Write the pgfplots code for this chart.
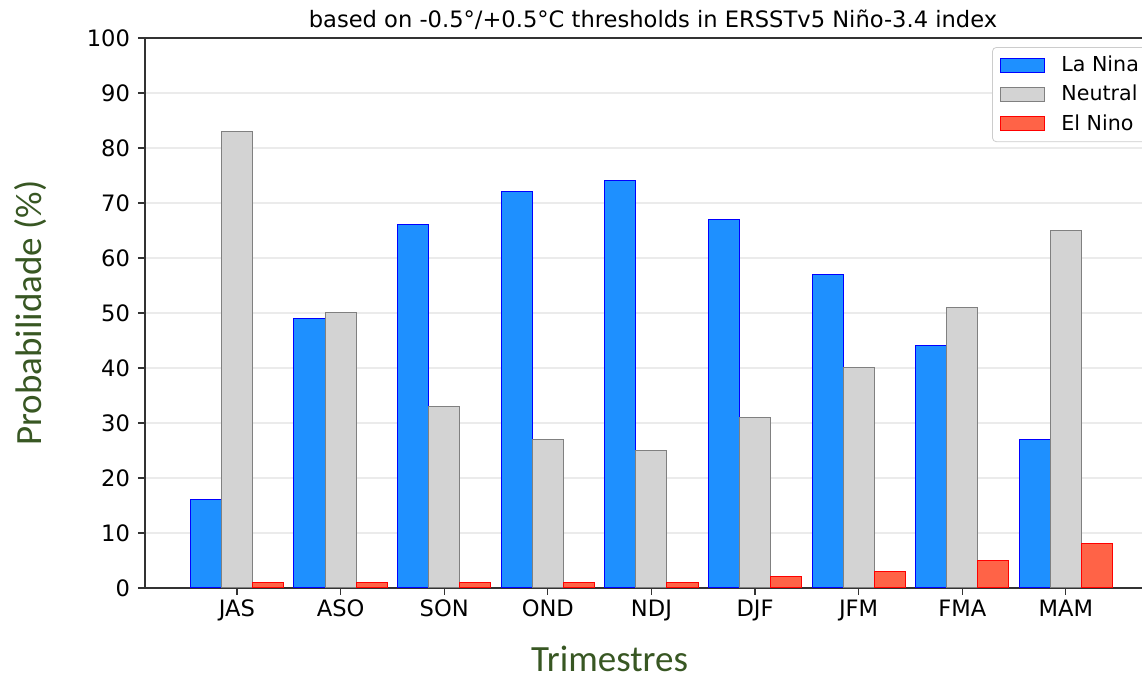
\documentclass[border=0pt]{standalone}
\usepackage{pgfplots}
\pgfplotsset{compat=1.18}
\usepackage{fontspec}
\setmainfont{DejaVu Sans}
\newfontfamily\calib{Carlito}
\usetikzlibrary{calc}
\definecolor{lanina}{HTML}{1E90FF}
\definecolor{neutral}{HTML}{D3D3D3}
\definecolor{elnino}{HTML}{FF6347}
\definecolor{lblgreen}{HTML}{385723}
\definecolor{gridc}{HTML}{EBEBEB}
\definecolor{spine}{HTML}{333333}
\begin{document}
\begin{tikzpicture}
\begin{axis}[
  name=ax,
  scale only axis, width=498.5pt, height=275pt,
  xmin=-0.888, xmax=8.735, ymin=0, ymax=100,
  xtick={0,...,8},
  xticklabels={JAS,ASO,SON,OND,NDJ,DJF,JFM,FMA,MAM},
  ytick={0,10,...,100},
  axis lines*=left,
  axis line style={spine, line width=0.75pt},
  tick align=outside,
  major tick length=3.5pt,
  tick style={spine, line width=0.6pt},
  ymajorgrids, major grid style={gridc, line width=0.6pt},
  /pgf/number format/assume math mode=true,
  ticklabel style={font=\fontsize{11.3}{13}\selectfont, text=black},
  xticklabel style={yshift=1pt},
  yticklabel style={xshift=-0.5pt},
  title={based on -0.5°/+0.5°C thresholds in ERSSTv5 Niño-3.4 index},
  every axis title/.style={at={(0.5095,1)}, anchor=base, yshift=5pt, font=\fontsize{11.3}{13}\selectfont},
  xlabel={Trimestres},
  ylabel={Probabilidade (\%)},
  xlabel style={at={(axis description cs:0.466,-0.1518)}, anchor=base, inner sep=0pt, text depth=0pt, font=\calib\fontsize{18.5}{20}\selectfont, text=lblgreen},
  ylabel style={at={(axis description cs:-0.1153,0.5)}, rotate=0, anchor=center, font=\calib\fontsize{18.5}{20}\selectfont, text=lblgreen},
  legend style={at={(0.8496,0.9836)}, anchor=north west, draw=gray!40, rounded corners=2pt,
     font=\fontsize{10.3}{12}\selectfont, row sep=1.3pt, inner xsep=4pt, inner ysep=2.3pt,
     nodes={inner xsep=4pt}},
  legend cell align=left,
  legend image code/.code={\draw[#1, sharp corners] (0pt,-3.5pt) rectangle (22pt,3.5pt); \path (26pt,0pt);},
  clip=false,
]
\addplot[ybar, bar width=0.3, bar shift=-0.3, fill=lanina, draw=blue, line width=0.5pt]
  coordinates {(0,16) (1,49) (2,66) (3,72) (4,74) (5,67) (6,57) (7,44) (8,27)};
\addplot[ybar, bar width=0.3, bar shift=0, fill=neutral, draw=gray, line width=0.5pt]
  coordinates {(0,83) (1,50) (2,33) (3,27) (4,25) (5,31) (6,40) (7,51) (8,65)};
\addplot[ybar, bar width=0.3, bar shift=0.3, fill=elnino, draw=red, line width=0.5pt]
  coordinates {(0,1) (1,1) (2,1) (3,1) (4,1) (5,2) (6,3) (7,5) (8,8)};
\legend{La Nina, Neutral, El Nino}
\draw[spine, line width=0.75pt] (rel axis cs:0,1) -- (rel axis cs:1,1);
\end{axis}
\pgfresetboundingbox
\path ($(ax.south west)+(-72.5pt,-43pt)$) rectangle ($(ax.north east)+(0pt,19pt)$);
\end{tikzpicture}
\end{document}
